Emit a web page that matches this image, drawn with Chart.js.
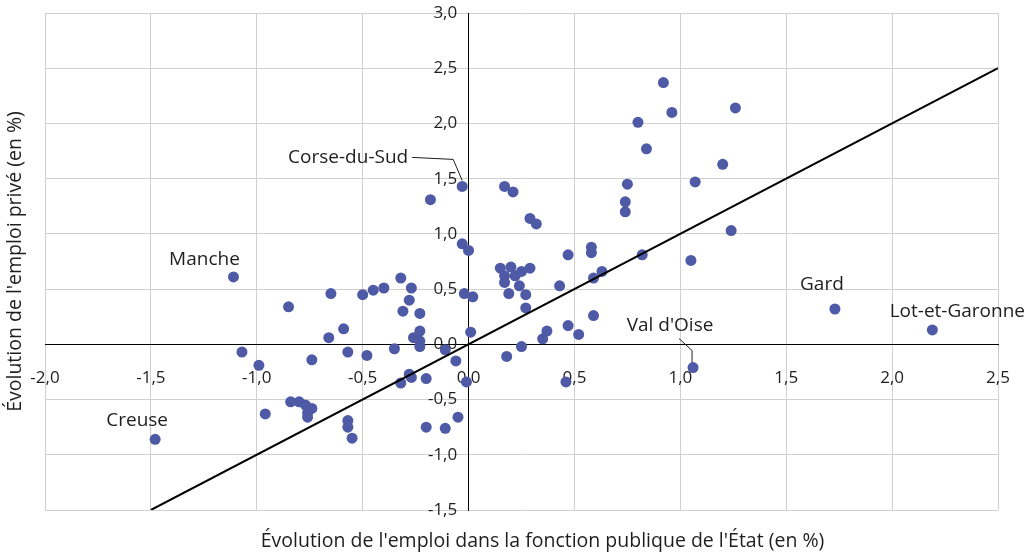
<!DOCTYPE html>
<html lang="fr">
<head>
<meta charset="utf-8">
<script src="https://cdn.jsdelivr.net/npm/chart.js@4/dist/chart.umd.min.js"></script>
<style>
  html, body { margin: 0; padding: 0; background: #fff; }
  #cadre { width: 1035px; height: 553px; }
</style>
</head>
<body>
<div id="cadre"><canvas id="nuage"></canvas></div>
<script>
// départements nommés d'abord (même ordre que "noms"), puis les autres
const noms = ["Creuse", "Manche", "Corse-du-Sud", "Val d'Oise", "Gard", "Lot-et-Garonne"];

const emploiEtat = [
    -1.48, -1.11, -0.03, 1.06, 1.73, 2.19,
    -1.07, -0.99, -0.96, -0.85, -0.84, -0.80, -0.77, -0.74, -0.76, -0.76,
    -0.74, -0.66, -0.65, -0.59, -0.57, -0.57, -0.57, -0.55, -0.50, -0.48,
    -0.45, -0.40, -0.35, -0.32, -0.32, -0.31, -0.28, -0.27, -0.28, -0.27,
    -0.26, -0.23, -0.23, -0.23, -0.23, -0.20, -0.20, -0.18, -0.11, -0.11,
    -0.06, -0.05, -0.03, 0.00, -0.02, 0.02, 0.01, -0.01,
    0.15, 0.17, 0.17, 0.17, 0.18, 0.19, 0.20, 0.21, 0.22, 0.24,
    0.25, 0.25, 0.27, 0.27, 0.29, 0.29, 0.32, 0.35, 0.37, 0.43,
    0.46, 0.47, 0.47, 0.52, 0.58, 0.58, 0.59, 0.59, 0.63, 0.74,
    0.74, 0.75, 0.80, 0.82, 0.84, 0.92, 0.96, 1.05, 1.07, 1.20,
    1.24, 1.26,
];
const emploiPrive = [
    -0.86, 0.61, 1.43, -0.21, 0.32, 0.13,
    -0.07, -0.19, -0.63, 0.34, -0.52, -0.52, -0.55, -0.58, -0.62, -0.66,
    -0.14, 0.06, 0.46, 0.14, -0.07, -0.69, -0.75, -0.85, 0.45, -0.10,
    0.49, 0.51, -0.04, 0.60, -0.35, 0.30, 0.40, 0.51, -0.27, -0.30,
    0.06, 0.12, 0.03, -0.02, 0.28, -0.31, -0.75, 1.31, -0.05, -0.76,
    -0.15, -0.66, 0.91, 0.85, 0.46, 0.43, 0.11, -0.34,
    0.69, 0.62, 0.56, 1.43, -0.11, 0.46, 0.70, 1.38, 0.62, 0.53,
    0.66, -0.02, 0.45, 0.33, 0.69, 1.14, 1.09, 0.05, 0.12, 0.53,
    -0.34, 0.17, 0.81, 0.09, 0.88, 0.83, 0.26, 0.60, 0.66, 1.29,
    1.20, 1.45, 2.01, 0.81, 1.77, 2.37, 2.10, 0.76, 1.47, 1.63,
    1.03, 2.14,
];
const bissectrice = [-1.5, 2.5];

// position des étiquettes par rapport au point (px)
const placement = {
    "Creuse": { dx: -18, dy: -19 },
    "Manche": { dx: -29, dy: -17 },
    "Corse-du-Sud": { dx: -54, dy: -29, align: "right", trait: [[-50, -29], [-9, -27], [0, -6]] },
    "Val d'Oise": { dx: -23, dy: -42, trait: [[-14, -29], [-1, -17], [-1, -5]] },
    "Gard": { dx: -13, dy: -24 },
    "Lot-et-Garonne": { dx: 25, dy: -18 },
};

const virgule = (v) => v.toFixed(1).replace(".", ",");
const police = "'Open Sans', sans-serif";
const encre = "#1e1e1e";

const etiquettes = {
    id: "etiquettes",
    afterDatasetsDraw(chart) {
        const ctx = chart.ctx;
        const pts = chart.getDatasetMeta(1).data;
        ctx.save();
        ctx.font = "19px " + police;
        ctx.fillStyle = encre;
        ctx.strokeStyle = encre;
        ctx.lineWidth = 1;
        ctx.textBaseline = "middle";
        noms.forEach((nom, i) => {
            const p = pts[i];
            const o = placement[nom];
            ctx.textAlign = o.align || "center";
            ctx.fillText(nom, p.x + o.dx, p.y + o.dy);
            if (o.trait) {
                ctx.beginPath();
                o.trait.forEach(([a, b], k) => {
                    if (k === 0) ctx.moveTo(p.x + a, p.y + b);
                    else ctx.lineTo(p.x + a, p.y + b);
                });
                ctx.stroke();
            }
        });
        ctx.restore();
    },
};

const titresAxes = {
    id: "titresAxes",
    afterDraw(chart) {
        const { ctx, chartArea: a } = chart;
        ctx.save();
        ctx.font = "19.5px " + police;
        ctx.fillStyle = encre;
        ctx.textAlign = "center";
        ctx.textBaseline = "middle";
        ctx.fillText("Évolution de l'emploi dans la fonction publique de l'État (en %)",
            (a.left + a.right) / 2 + 21, a.bottom + 31);
        ctx.translate(15, (a.top + a.bottom) / 2);
        ctx.rotate(-Math.PI / 2);
        ctx.fillText("Évolution de l'emploi privé (en %)", 0, 0);
        ctx.restore();
    },
};

Chart.defaults.font.family = police;
Chart.defaults.font.size = 17;
Chart.defaults.color = encre;

new Chart(document.getElementById("nuage").getContext("2d"), {
    type: "scatter",
    data: {
        datasets: [
            {
                label: "Bissectrice",
                type: "line",
                data: bissectrice.map((v) => ({ x: v, y: v })),
                borderColor: "#000",
                borderWidth: 2,
                pointRadius: 0,
                fill: false,
                order: 0,
            },
            {
                label: "Départements",
                data: emploiEtat.map((x, i) => ({ x: x, y: emploiPrive[i] })),
                backgroundColor: "#4f5aa6",
                borderWidth: 0,
                pointRadius: 5.5,
                order: 1,
            },
        ],
    },
    plugins: [etiquettes, titresAxes],
    options: {
        responsive: true,
        maintainAspectRatio: false,
        animation: false,
        layout: { padding: { left: 45, right: 37, top: 13, bottom: 43 } },
        plugins: {
            legend: { display: false },
            tooltip: { enabled: false },
        },
        scales: {
            x: {
                type: "linear",
                position: { y: 0 },
                min: -2,
                max: 2.5,
                ticks: { stepSize: 0.5, padding: 24, callback: virgule },
                grid: { color: "#d0d0d0", drawTicks: false },
                border: { color: "#000", width: 1 },
            },
            y: {
                type: "linear",
                position: { x: 0 },
                min: -1.5,
                max: 3,
                // l'axe centré ignore ticks.padding : espaces pour décoller les libellés
                ticks: { stepSize: 0.5, padding: 0, callback: (v) => virgule(v) + "\u2002\u2009" },
                grid: { color: "#d0d0d0", drawTicks: false },
                border: { color: "#000", width: 1 },
            },
        },
    },
});
</script>
</body>
</html>
